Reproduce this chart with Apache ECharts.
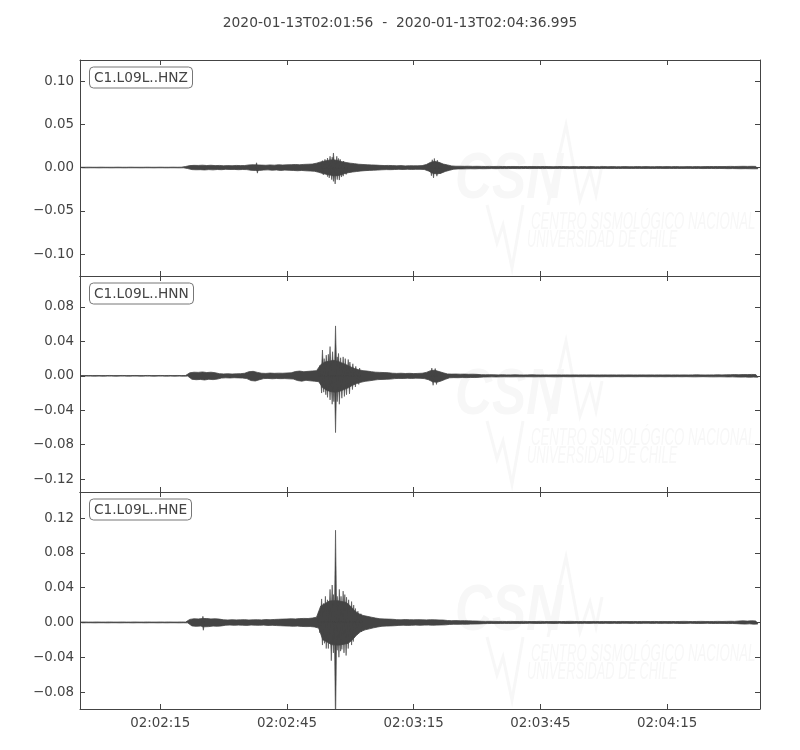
<!DOCTYPE html>
<html><head><meta charset="utf-8">
<script src="https://cdn.jsdelivr.net/npm/echarts@6/dist/echarts.min.js"></script>
<style>html,body{margin:0;padding:0;background:#fff}#c{width:800px;height:750px}</style>
</head><body><div id="c"></div>
<script>
// ---- data ----
const titleText = '2020-01-13T02:01:56  -  2020-01-13T02:04:36.995';
const startSec = 2 * 3600 + 1 * 60 + 56;   // 02:01:56
const duration = 160.995;                   // seconds shown
const timeTicks = [19, 49, 79, 109, 139];   // 02:02:15 ... 02:04:15
const channels = ['C1.L09L..HNZ', 'C1.L09L..HNN', 'C1.L09L..HNE'];
const yRanges = [[-0.1254, 0.1243], [-0.135, 0.116], [-0.0995, 0.1499]];
const yTicks = [[-0.10, -0.05, 0, 0.05, 0.10], [-0.12, -0.08, -0.04, 0, 0.04, 0.08], [-0.08, -0.04, 0, 0.04, 0.08, 0.12]];

// dense core of each trace: max / min per second from 02:01:56
const hnzHi = [
0.0003,0.0003,0.0004,0.0003,0.0003,0.0004,0.0003,0.0003,0.0003,0.0004,
0.0003,0.0003,0.0004,0.0003,0.0003,0.0003,0.0004,0.0003,0.0003,0.0004,
0.0003,0.0003,0.0004,0.0003,0.0004,0.0012,0.0022,0.0025,0.0024,0.0027,
0.0023,0.0026,0.0022,0.0024,0.0020,0.0022,0.0021,0.0024,0.0022,0.0023,
0.0030,0.0032,0.0030,0.0028,0.0026,0.0030,0.0027,0.0032,0.0029,0.0031,
0.0033,0.0035,0.0032,0.0036,0.0038,0.0040,0.0050,0.0065,0.0075,0.0085,
0.0090,0.0080,0.0068,0.0058,0.0050,0.0045,0.0038,0.0035,0.0032,0.0030,
0.0028,0.0025,0.0023,0.0024,0.0022,0.0020,0.0022,0.0019,0.0021,0.0020,
0.0020,0.0022,0.0035,0.0060,0.0070,0.0060,0.0040,0.0030,0.0018,0.0015,
0.0015,0.0014,0.0015,0.0013,0.0014,0.0013,0.0012,0.0013,0.0012,0.0013,
0.0012,0.0011,0.0012,0.0012,0.0011,0.0012,0.0011,0.0012,0.0011,0.0011,
0.0012,0.0011,0.0010,0.0011,0.0012,0.0011,0.0010,0.0011,0.0010,0.0011,
0.0010,0.0011,0.0010,0.0010,0.0011,0.0010,0.0011,0.0010,0.0010,0.0011,
0.0010,0.0010,0.0011,0.0010,0.0011,0.0010,0.0010,0.0011,0.0010,0.0011,
0.0010,0.0011,0.0010,0.0010,0.0011,0.0010,0.0011,0.0010,0.0011,0.0012,
0.0011,0.0012,0.0011,0.0012,0.0013,0.0012,0.0013,0.0014,0.0013,0.0014,
0.0013];
const hnzLo = [
-0.0003,-0.0004,-0.0003,-0.0003,-0.0004,-0.0003,-0.0003,-0.0004,-0.0003,-0.0003,
-0.0004,-0.0003,-0.0003,-0.0003,-0.0004,-0.0003,-0.0003,-0.0004,-0.0003,-0.0003,
-0.0004,-0.0003,-0.0003,-0.0004,-0.0003,-0.0012,-0.0024,-0.0026,-0.0025,-0.0028,
-0.0024,-0.0027,-0.0023,-0.0025,-0.0021,-0.0023,-0.0022,-0.0025,-0.0023,-0.0024,
-0.0032,-0.0034,-0.0033,-0.0029,-0.0027,-0.0031,-0.0028,-0.0034,-0.0030,-0.0032,
-0.0034,-0.0037,-0.0034,-0.0038,-0.0040,-0.0043,-0.0055,-0.0070,-0.0080,-0.0090,
-0.0095,-0.0088,-0.0072,-0.0060,-0.0052,-0.0046,-0.0040,-0.0036,-0.0033,-0.0031,
-0.0029,-0.0026,-0.0024,-0.0025,-0.0023,-0.0021,-0.0023,-0.0020,-0.0022,-0.0021,
-0.0021,-0.0023,-0.0040,-0.0065,-0.0075,-0.0065,-0.0045,-0.0032,-0.0019,-0.0016,
-0.0016,-0.0015,-0.0014,-0.0015,-0.0013,-0.0014,-0.0013,-0.0012,-0.0013,-0.0012,
-0.0012,-0.0012,-0.0011,-0.0012,-0.0012,-0.0011,-0.0012,-0.0011,-0.0011,-0.0012,
-0.0011,-0.0012,-0.0011,-0.0010,-0.0011,-0.0012,-0.0011,-0.0010,-0.0011,-0.0010,
-0.0011,-0.0010,-0.0011,-0.0010,-0.0010,-0.0011,-0.0010,-0.0011,-0.0010,-0.0010,
-0.0011,-0.0010,-0.0010,-0.0011,-0.0010,-0.0011,-0.0010,-0.0010,-0.0011,-0.0010,
-0.0011,-0.0010,-0.0011,-0.0010,-0.0010,-0.0011,-0.0010,-0.0012,-0.0011,-0.0011,
-0.0012,-0.0011,-0.0012,-0.0013,-0.0012,-0.0013,-0.0014,-0.0013,-0.0014,-0.0015,
-0.0014];
const hnnHi = [
0.0003,0.0004,0.0003,0.0003,0.0004,0.0003,0.0003,0.0004,0.0003,0.0003,
0.0004,0.0003,0.0003,0.0004,0.0003,0.0003,0.0004,0.0003,0.0003,0.0004,
0.0003,0.0004,0.0003,0.0004,0.0003,0.0004,0.0035,0.0042,0.0040,0.0045,
0.0038,0.0042,0.0036,0.0025,0.0022,0.0024,0.0021,0.0023,0.0025,0.0030,
0.0048,0.0052,0.0040,0.0030,0.0028,0.0032,0.0029,0.0031,0.0030,0.0033,
0.0035,0.0050,0.0055,0.0048,0.0052,0.0056,0.0060,0.0130,0.0160,0.0170,
0.0180,0.0170,0.0150,0.0130,0.0105,0.0085,0.0070,0.0060,0.0055,0.0048,
0.0042,0.0040,0.0038,0.0036,0.0030,0.0028,0.0030,0.0027,0.0029,0.0026,
0.0028,0.0030,0.0040,0.0060,0.0065,0.0050,0.0035,0.0022,0.0020,0.0021,
0.0019,0.0020,0.0018,0.0019,0.0017,0.0013,0.0012,0.0013,0.0012,0.0011,
0.0012,0.0011,0.0011,0.0012,0.0011,0.0010,0.0011,0.0012,0.0011,0.0010,
0.0011,0.0010,0.0011,0.0011,0.0010,0.0011,0.0010,0.0011,0.0010,0.0011,
0.0010,0.0011,0.0010,0.0010,0.0011,0.0010,0.0011,0.0010,0.0011,0.0010,
0.0011,0.0010,0.0010,0.0011,0.0010,0.0011,0.0010,0.0011,0.0010,0.0011,
0.0010,0.0011,0.0010,0.0011,0.0010,0.0011,0.0012,0.0011,0.0010,0.0011,
0.0011,0.0012,0.0011,0.0012,0.0013,0.0014,0.0013,0.0015,0.0014,0.0016,
0.0015];
const hnnLo = [
-0.0004,-0.0003,-0.0003,-0.0004,-0.0003,-0.0004,-0.0003,-0.0003,-0.0004,-0.0003,
-0.0003,-0.0004,-0.0003,-0.0003,-0.0004,-0.0003,-0.0003,-0.0004,-0.0003,-0.0003,
-0.0004,-0.0003,-0.0004,-0.0003,-0.0004,-0.0003,-0.0040,-0.0045,-0.0042,-0.0048,
-0.0040,-0.0044,-0.0038,-0.0026,-0.0023,-0.0025,-0.0022,-0.0024,-0.0026,-0.0032,
-0.0055,-0.0060,-0.0045,-0.0032,-0.0030,-0.0034,-0.0031,-0.0033,-0.0032,-0.0035,
-0.0037,-0.0055,-0.0062,-0.0052,-0.0058,-0.0062,-0.0068,-0.0140,-0.0170,-0.0185,
-0.0190,-0.0180,-0.0160,-0.0140,-0.0110,-0.0090,-0.0075,-0.0064,-0.0058,-0.0050,
-0.0044,-0.0042,-0.0040,-0.0038,-0.0032,-0.0030,-0.0031,-0.0028,-0.0030,-0.0027,
-0.0029,-0.0032,-0.0045,-0.0070,-0.0075,-0.0060,-0.0040,-0.0023,-0.0021,-0.0022,
-0.0020,-0.0021,-0.0019,-0.0020,-0.0018,-0.0014,-0.0013,-0.0012,-0.0013,-0.0012,
-0.0011,-0.0012,-0.0012,-0.0011,-0.0012,-0.0011,-0.0011,-0.0012,-0.0011,-0.0011,
-0.0010,-0.0011,-0.0012,-0.0011,-0.0010,-0.0011,-0.0011,-0.0010,-0.0011,-0.0010,
-0.0011,-0.0010,-0.0011,-0.0011,-0.0010,-0.0011,-0.0010,-0.0010,-0.0011,-0.0010,
-0.0010,-0.0011,-0.0010,-0.0010,-0.0011,-0.0010,-0.0011,-0.0010,-0.0011,-0.0010,
-0.0011,-0.0010,-0.0011,-0.0010,-0.0011,-0.0012,-0.0011,-0.0010,-0.0011,-0.0012,
-0.0012,-0.0011,-0.0012,-0.0013,-0.0012,-0.0014,-0.0015,-0.0014,-0.0016,-0.0015,
-0.0016];
const hneHi = [
0.0004,0.0005,0.0004,0.0004,0.0005,0.0004,0.0004,0.0005,0.0004,0.0004,
0.0005,0.0004,0.0004,0.0005,0.0004,0.0004,0.0005,0.0004,0.0004,0.0005,
0.0004,0.0005,0.0004,0.0004,0.0005,0.0004,0.0035,0.0042,0.0040,0.0045,
0.0045,0.0040,0.0042,0.0038,0.0030,0.0028,0.0031,0.0029,0.0030,0.0032,
0.0028,0.0030,0.0031,0.0029,0.0033,0.0031,0.0034,0.0036,0.0038,0.0040,
0.0042,0.0040,0.0044,0.0046,0.0045,0.0050,0.0060,0.0190,0.0215,0.0245,
0.0250,0.0250,0.0240,0.0230,0.0190,0.0135,0.0100,0.0080,0.0070,0.0060,
0.0050,0.0042,0.0040,0.0038,0.0036,0.0032,0.0030,0.0033,0.0031,0.0030,
0.0032,0.0030,0.0029,0.0031,0.0030,0.0028,0.0027,0.0022,0.0020,0.0021,
0.0019,0.0020,0.0018,0.0017,0.0016,0.0013,0.0012,0.0013,0.0012,0.0011,
0.0012,0.0011,0.0012,0.0011,0.0011,0.0012,0.0011,0.0010,0.0011,0.0012,
0.0011,0.0010,0.0011,0.0011,0.0010,0.0011,0.0012,0.0011,0.0010,0.0011,
0.0010,0.0011,0.0011,0.0010,0.0011,0.0010,0.0011,0.0010,0.0011,0.0011,
0.0010,0.0011,0.0010,0.0011,0.0011,0.0010,0.0011,0.0010,0.0011,0.0010,
0.0011,0.0010,0.0011,0.0012,0.0011,0.0010,0.0011,0.0012,0.0011,0.0011,
0.0011,0.0012,0.0011,0.0012,0.0013,0.0012,0.0016,0.0018,0.0015,0.0019,
0.0017];
const hneLo = [
-0.0005,-0.0004,-0.0004,-0.0005,-0.0004,-0.0004,-0.0005,-0.0004,-0.0004,-0.0005,
-0.0004,-0.0004,-0.0005,-0.0004,-0.0004,-0.0005,-0.0004,-0.0004,-0.0005,-0.0004,
-0.0005,-0.0004,-0.0004,-0.0005,-0.0004,-0.0005,-0.0040,-0.0045,-0.0042,-0.0050,
-0.0048,-0.0042,-0.0044,-0.0040,-0.0032,-0.0030,-0.0033,-0.0031,-0.0032,-0.0034,
-0.0030,-0.0032,-0.0033,-0.0031,-0.0035,-0.0033,-0.0036,-0.0038,-0.0040,-0.0042,
-0.0044,-0.0042,-0.0046,-0.0048,-0.0047,-0.0052,-0.0065,-0.0200,-0.0225,-0.0255,
-0.0260,-0.0260,-0.0250,-0.0240,-0.0200,-0.0145,-0.0105,-0.0085,-0.0074,-0.0062,
-0.0052,-0.0044,-0.0042,-0.0040,-0.0038,-0.0034,-0.0032,-0.0034,-0.0033,-0.0031,
-0.0033,-0.0031,-0.0030,-0.0032,-0.0031,-0.0029,-0.0028,-0.0023,-0.0021,-0.0022,
-0.0020,-0.0021,-0.0019,-0.0018,-0.0017,-0.0014,-0.0013,-0.0012,-0.0013,-0.0012,
-0.0011,-0.0012,-0.0011,-0.0012,-0.0012,-0.0011,-0.0010,-0.0011,-0.0012,-0.0011,
-0.0010,-0.0011,-0.0012,-0.0010,-0.0011,-0.0012,-0.0011,-0.0010,-0.0011,-0.0010,
-0.0011,-0.0010,-0.0010,-0.0011,-0.0010,-0.0011,-0.0010,-0.0011,-0.0010,-0.0010,
-0.0011,-0.0010,-0.0011,-0.0010,-0.0010,-0.0011,-0.0010,-0.0011,-0.0010,-0.0011,
-0.0010,-0.0011,-0.0012,-0.0011,-0.0010,-0.0011,-0.0012,-0.0011,-0.0010,-0.0012,
-0.0012,-0.0011,-0.0012,-0.0013,-0.0012,-0.0014,-0.0017,-0.0019,-0.0016,-0.0020,
-0.0018];

// individual peaks standing out of the core: [seconds after 02:01:56, amplitude]
const hnzPeaks = [[41.8,0.0055],[42.0,-0.0065],
  [57.4,0.0080],[58.0,0.0095],[58.6,0.0110],[59.2,0.0130],[59.7,0.0120],[60.0,0.0168],[60.8,0.0130],[61.2,0.0105],[61.6,0.0095],[62.4,0.0075],
  [57.6,-0.0085],[58.6,-0.0105],[59.0,-0.0120],[59.6,-0.0140],[60.0,-0.0160],[60.4,-0.0190],[60.9,-0.0140],[61.4,-0.0145],[61.9,-0.0110],[62.3,-0.0100],[63.0,-0.0080],
  [83.4,0.0090],[83.9,0.0105],[84.6,0.0085],[83.2,-0.0095],[83.7,-0.0120],[84.5,-0.0100],[85.3,-0.0070]];
const hnnPeaks = [[56.8,0.012],[57.4,0.030],[57.8,0.020],[58.3,0.024],[58.8,0.025],[59.2,0.034],[59.8,0.028],[60.5,0.058],[60.9,0.022],
  [61.2,0.026],[61.7,0.021],[62.3,0.022],[62.8,0.020],[63.5,0.019],[63.9,0.016],[64.6,0.014],[65.3,0.011],[66.2,0.009],
  [57.2,-0.020],[57.7,-0.019],[58.2,-0.022],[58.6,-0.025],[59.2,-0.028],[59.7,-0.033],[60.1,-0.030],[60.5,-0.066],[60.9,-0.030],
  [61.4,-0.033],[62.0,-0.026],[62.6,-0.024],[63.1,-0.022],[63.8,-0.021],[64.5,-0.016],[65.2,-0.013],[66.0,-0.010],
  [83.3,0.009],[84.1,0.0085],[83.6,-0.011],[84.4,-0.010]];
const hnePeaks = [[29.1,0.007],[29.2,-0.009],
  [56.6,0.012],[57.2,0.027],[57.7,0.022],[58.1,0.030],[58.6,0.026],[59.2,0.038],[59.7,0.043],[60.0,0.032],[60.5,0.106],[60.9,0.030],
  [61.4,0.038],[61.8,0.030],[62.3,0.036],[62.7,0.032],[63.1,0.029],[63.6,0.026],[64.3,0.024],[64.8,0.020],[65.2,0.016],[65.8,0.013],[66.5,0.010],
  [56.8,-0.012],[57.4,-0.026],[57.9,-0.024],[58.3,-0.030],[58.8,-0.030],[59.5,-0.044],[60.0,-0.035],[60.5,-0.120],[60.9,-0.032],
  [61.3,-0.040],[61.7,-0.033],[62.0,-0.031],[62.5,-0.035],[63.0,-0.038],[63.5,-0.030],[64.3,-0.026],[64.7,-0.022],[65.0,-0.017],[65.6,-0.014],[66.6,-0.011]];

// ---- layout / style ----
const traces = [[hnzHi, hnzLo, hnzPeaks], [hnnHi, hnnLo, hnnPeaks], [hneHi, hneLo, hnePeaks]];
const panelTops = [60, 276, 492];
const panelHs = [216, 216, 217];
const FG = '#444444';
const FONT = 'DejaVu Sans';
const PEAK_HALF = 0.3;   // half width of a peak, seconds

function fmtTime(v) {
  const s = Math.round(startSec + v);
  const p = n => String(n).padStart(2, '0');
  return p(Math.floor(s / 3600)) + ':' + p(Math.floor(s / 60) % 60) + ':' + p(s % 60);
}
function fmtY(v) {
  const a = Math.abs(v).toFixed(2);
  return (v < -1e-9 ? '\u2212' : '') + a;
}
// filled waveform core: maxima at each second, minima half a second later
function makeBand(hi, lo) {
  return function (params, api) {
    if (params.dataIndex !== 0) return null;
    const pts = [];
    for (let i = 0; i < hi.length; i++) pts.push(api.coord([i, hi[i]]));
    for (let i = lo.length - 1; i >= 0; i--) pts.push(api.coord([i + 0.5, lo[i]]));
    return { type: 'polygon', shape: { points: pts }, style: { fill: FG, stroke: FG, lineWidth: 0.8 } };
  };
}
function renderPeak(params, api) {
  const t = api.value(0), v = api.value(1);
  const pts = [api.coord([t - PEAK_HALF, 0]), api.coord([t, v]), api.coord([t + PEAK_HALF, 0])];
  return { type: 'polygon', shape: { points: pts }, style: { fill: FG, stroke: FG, lineWidth: 0.6 } };
}

const grid = [], xAxis = [], yAxis = [], series = [], titles = [], graphics = [];
titles.push({ text: titleText, left: 'center', top: 11,
  textStyle: { fontFamily: FONT, fontSize: 13.8, fontWeight: 'normal', color: FG } });

const lineAx = { show: true, onZero: false, lineStyle: { color: FG, width: 1 } };
for (let i = 0; i < 3; i++) {
  const top = panelTops[i];
  grid.push({ left: 80, width: 680, top: top, height: panelHs[i] });
  const tick = { show: true, inside: true, length: 5, lineStyle: { color: FG, width: 1 } };
  xAxis.push({ type: 'value', gridIndex: i, min: 0, max: duration, position: 'bottom',
    axisLine: lineAx, splitLine: { show: false },
    axisTick: Object.assign({ customValues: timeTicks }, tick),
    axisLabel: { show: i === 2, customValues: timeTicks, formatter: fmtTime, margin: 8,
      fontFamily: FONT, fontSize: 13.4, color: FG } });
  xAxis.push({ type: 'value', gridIndex: i, min: 0, max: duration, position: 'top',
    axisLine: lineAx, splitLine: { show: false },
    axisTick: Object.assign({ customValues: timeTicks }, tick),
    axisLabel: { show: false } });
  yAxis.push({ type: 'value', gridIndex: i, min: yRanges[i][0], max: yRanges[i][1], position: 'left',
    axisLine: lineAx, splitLine: { show: false },
    axisTick: Object.assign({ customValues: yTicks[i] }, tick),
    axisLabel: { customValues: yTicks[i], formatter: fmtY, margin: 6,
      fontFamily: FONT, fontSize: 13.4, color: FG } });
  yAxis.push({ type: 'value', gridIndex: i, min: yRanges[i][0], max: yRanges[i][1], position: 'right',
    axisLine: lineAx, splitLine: { show: false },
    axisTick: Object.assign({ customValues: yTicks[i] }, tick),
    axisLabel: { show: false } });
  const hi = traces[i][0], lo = traces[i][1], peaks = traces[i][2];
  series.push({ type: 'custom', name: channels[i], xAxisIndex: 2 * i, yAxisIndex: 2 * i,
    data: hi.map((h, k) => [k, h, lo[k]]), encode: { x: 0, y: [1, 2] },
    renderItem: makeBand(hi, lo), clip: true, z: 3, silent: true });
  series.push({ type: 'custom', name: channels[i] + ' peaks', xAxisIndex: 2 * i, yAxisIndex: 2 * i,
    data: peaks, encode: { x: 0, y: 1 },
    renderItem: renderPeak, clip: true, z: 3, silent: true });
  titles.push({ text: channels[i], left: 89, top: top + 6.5,
    backgroundColor: '#ffffff', borderColor: '#777777', borderWidth: 1, borderRadius: 4,
    padding: [3, 5, 2, 5], z: 10,
    textStyle: { fontFamily: FONT, fontSize: 13.7, fontWeight: 'normal', color: FG, lineHeight: 17 } });
  // faint CSN watermark
  const wm = '#f7f7f7';
  graphics.push({ type: 'group', silent: true, z: 0, children: [
    { type: 'text', x: 455, y: top + 88, scaleX: 0.8, style: { text: 'CSN', fontFamily: 'Liberation Sans',
      fontStyle: 'italic', fontWeight: 'bold', fontSize: 64, fill: wm } },
    { type: 'text', x: 531, y: top + 150, scaleX: 0.55, style: { text: 'CENTRO SISMOLÓGICO NACIONAL',
      fontFamily: 'Liberation Sans', fontStyle: 'italic', fontSize: 24, fill: wm } },
    { type: 'text', x: 527, y: top + 168, scaleX: 0.534, style: { text: 'UNIVERSIDAD DE CHILE',
      fontFamily: 'Liberation Sans', fontStyle: 'italic', fontSize: 24, fill: wm } },
    { type: 'polyline', shape: { points: [[487, top + 145], [497, top + 183], [503, top + 165], [512, top + 208], [523, top + 145]] },
      style: { stroke: wm, lineWidth: 3, fill: null } },
    { type: 'polyline', shape: { points: [[548, top + 145], [566, top + 65], [580, top + 140], [590, top + 110], [596, top + 135], [602, top + 105]] },
      style: { stroke: wm, lineWidth: 3, fill: null } }
  ]});
}

const chart = echarts.init(document.getElementById('c'), null, { renderer: 'canvas' });
chart.setOption({
  animation: false,
  backgroundColor: '#ffffff',
  title: titles,
  grid: grid, xAxis: xAxis, yAxis: yAxis, series: series,
  graphic: graphics
});
</script>
</body></html>
